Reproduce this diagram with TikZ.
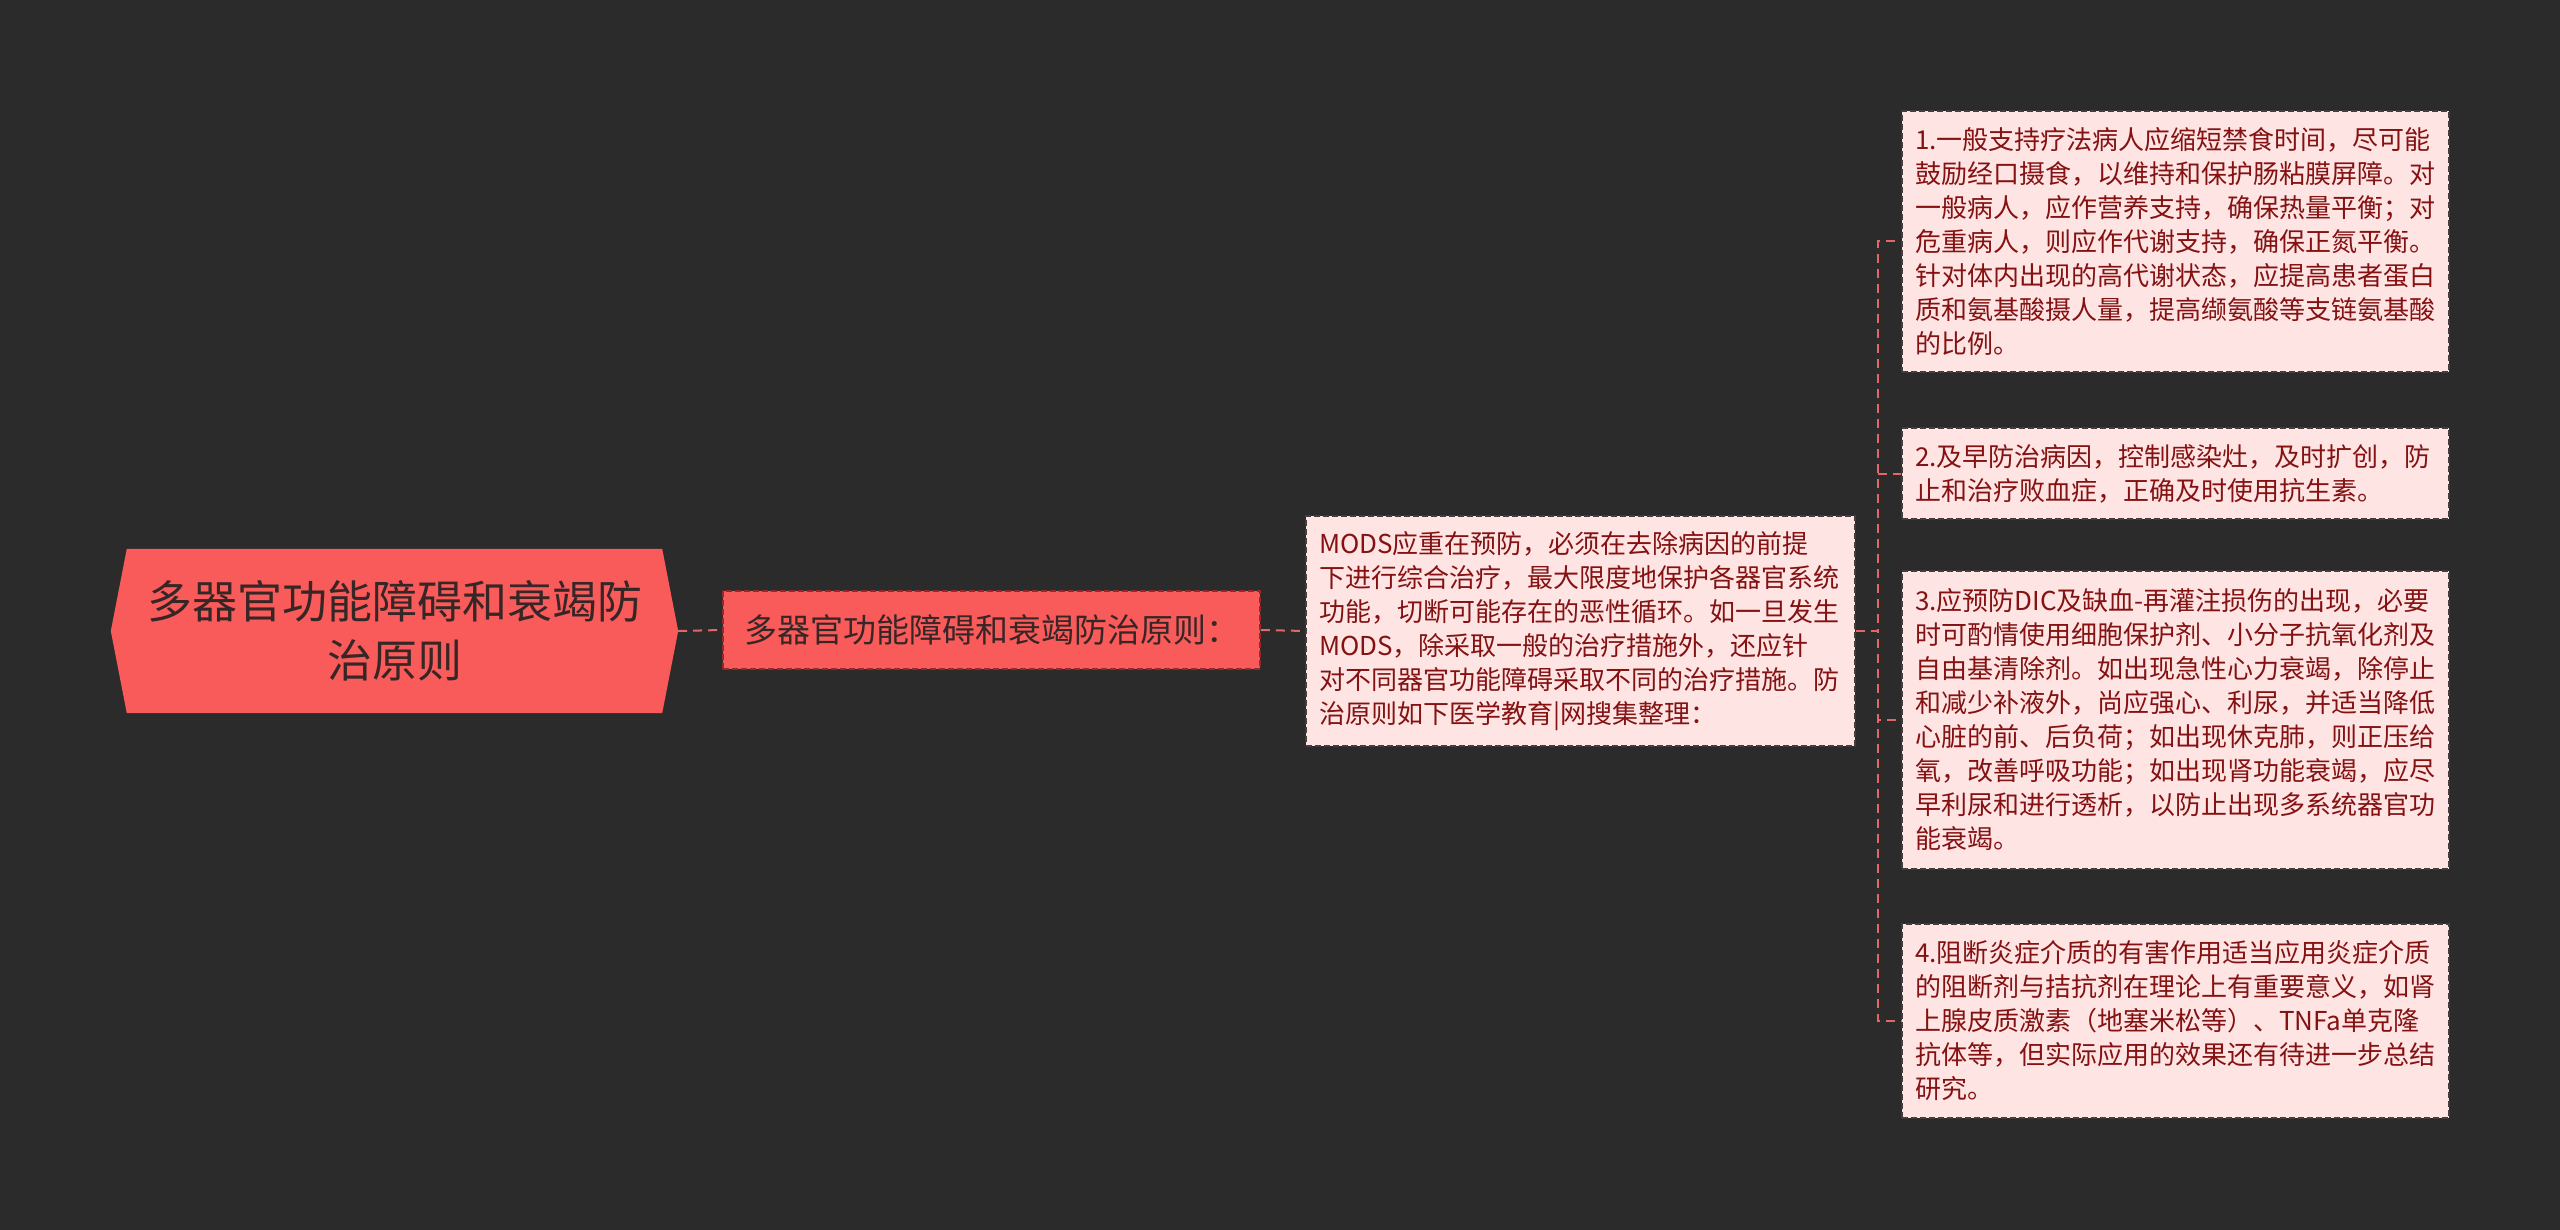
\documentclass[tikz,border=0pt]{standalone}
\usepackage{fontspec}
\newfontfamily\cjk{Noto Sans CJK SC}
\usetikzlibrary{backgrounds}
\definecolor{bgc}{RGB}{43,43,43}
\definecolor{rootred}{RGB}{249,90,90}
\definecolor{roottxt}{RGB}{55,38,38}
\definecolor{secborder}{RGB}{150,40,40}
\definecolor{pinkfill}{RGB}{255,228,228}
\definecolor{pinkborder}{RGB}{70,60,60}
\definecolor{leaftxt}{RGB}{132,18,18}
\definecolor{linkc}{RGB}{226,104,104}
\tikzset{
  rootnode/.style={inner sep=0pt, minimum width=567pt, minimum height=164pt,
    align=center, text=roottxt, font=\cjk\fontsize{45}{59}\selectfont},
  secnode/.style={draw=secborder, line width=1.8pt, dash pattern=on 6pt off 3pt,
    fill=rootred, inner sep=0pt, minimum width=537pt, minimum height=78pt,
    align=center, text=roottxt, font=\cjk\fontsize{33}{40}\selectfont},
  textbox/.style={draw=pinkborder, line width=1.6pt, dash pattern=on 6pt off 3pt,
    fill=pinkfill, inner xsep=13pt, inner ysep=0pt, align=left, text=leaftxt,
    font=\cjk\fontsize{26}{34}\selectfont},
  link/.style={draw=linkc, line width=2pt, dash pattern=on 9pt off 6pt}
}
\begin{document}
\begin{tikzpicture}[x=1pt,y=-1pt]
\useasboundingbox (0,0) rectangle (2560,1230);

\node[rootnode] (root) at (394.5,631) {多器官功能障碍和衰竭防\\治原则};
\begin{scope}[on background layer]
  \fill[bgc] (0,0) rectangle (2560,1230);
  \fill[rootred] ([xshift=16pt]root.north west) -- ([xshift=-16pt]root.north east)
    -- (root.east) -- ([xshift=-16pt]root.south east)
    -- ([xshift=16pt]root.south west) -- (root.west) -- cycle;
\end{scope}

\node[secnode] (sec) at (991.5,630) {多器官功能障碍和衰竭防治原则：};

\node[textbox, text width=523pt, minimum height=230pt] (mods) at (1580.5,631) {MODS应重在预防，必须在去除病因的前提\\下进行综合治疗，最大限度地保护各器官系统\\功能，切断可能存在的恶性循环。如一旦发生\\MODS，除采取一般的治疗措施外，还应针\\对不同器官功能障碍采取不同的治疗措施。防\\治原则如下医学教育|网搜集整理：};

\node[textbox, text width=521pt, minimum height=261pt] (l1) at (2175.5,241.5) {1.一般支持疗法病人应缩短禁食时间，尽可能\\鼓励经口摄食，以维持和保护肠粘膜屏障。对\\一般病人，应作营养支持，确保热量平衡；对\\危重病人，则应作代谢支持，确保正氮平衡。\\针对体内出现的高代谢状态，应提高患者蛋白\\质和氨基酸摄人量，提高缬氨酸等支链氨基酸\\的比例。};

\node[textbox, text width=521pt, minimum height=91pt] (l2) at (2175.5,473.5) {2.及早防治病因，控制感染灶，及时扩创，防\\止和治疗败血症，正确及时使用抗生素。};

\node[textbox, text width=521pt, minimum height=298pt] (l3) at (2175.5,720) {3.应预防DIC及缺血-再灌注损伤的出现，必要\\时可酌情使用细胞保护剂、小分子抗氧化剂及\\自由基清除剂。如出现急性心力衰竭，除停止\\和减少补液外，尚应强心、利尿，并适当降低\\心脏的前、后负荷；如出现休克肺，则正压给\\氧，改善呼吸功能；如出现肾功能衰竭，应尽\\早利尿和进行透析，以防止出现多系统器官功\\能衰竭。};

\node[textbox, text width=521pt, minimum height=194pt] (l4) at (2175.5,1021) {4.阻断炎症介质的有害作用适当应用炎症介质\\的阻断剂与拮抗剂在理论上有重要意义，如肾\\上腺皮质激素（地塞米松等）、TNFa单克隆\\抗体等，但实际应用的效果还有待进一步总结\\研究。};

\coordinate (trunk) at (1878,631);

\draw[link] (root.east) -- (sec.west);
\draw[link] (sec.east) -- (mods.west);
\foreach \l in {l1,l2,l3,l4}{
  \draw[link] (mods.east) -- (trunk) |- (\l.west);
}
\end{tikzpicture}
\end{document}
